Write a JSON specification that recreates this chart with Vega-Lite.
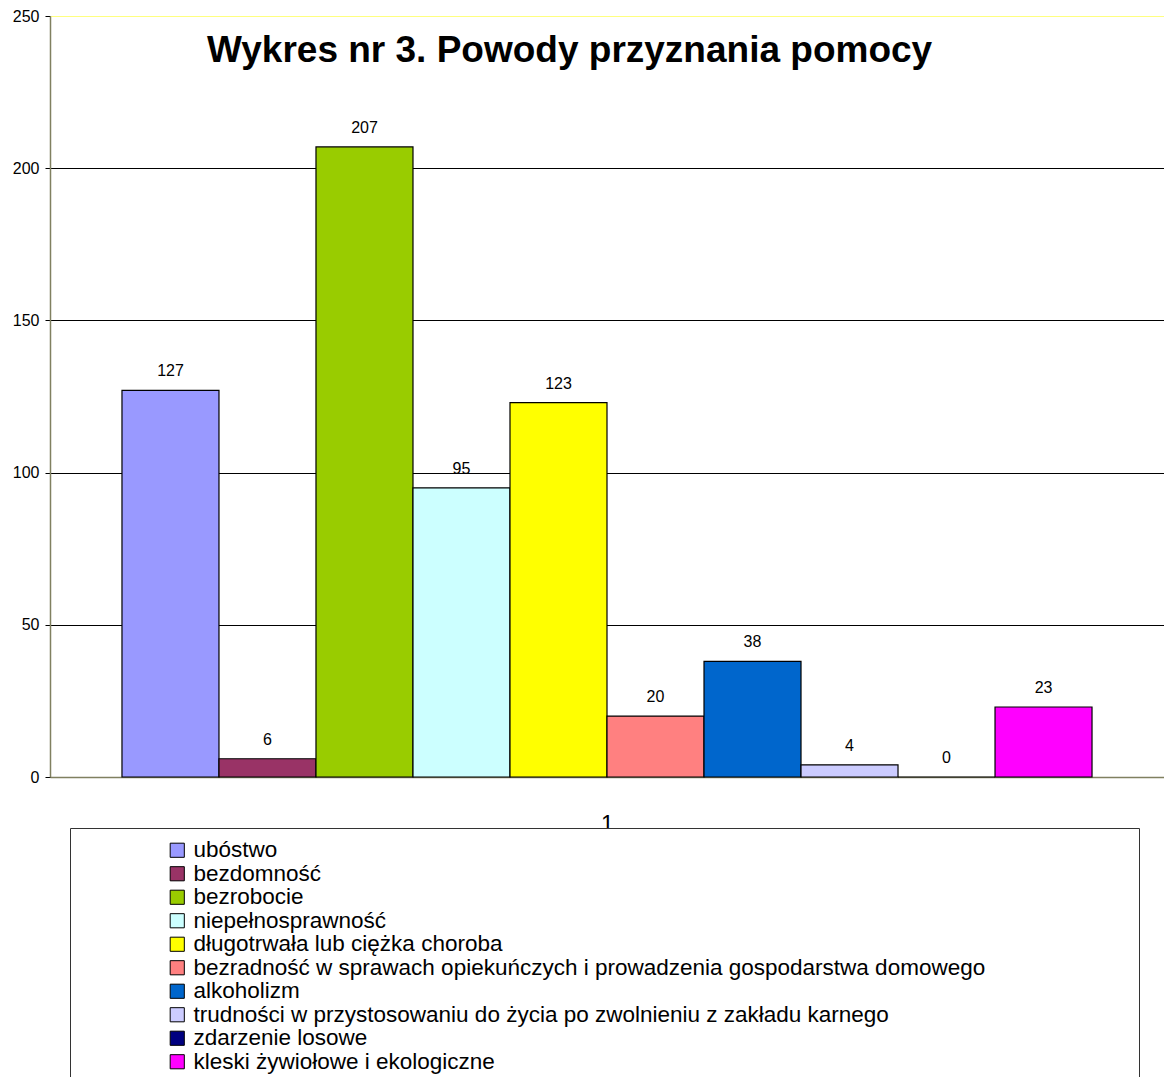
{
  "$schema": "https://vega.github.io/schema/vega-lite/v6.json",
  "width": 1114,
  "height": 761,
  "autosize": {"type": "none"},
  "padding": {"left": 50, "top": 16, "right": 0, "bottom": 300},
  "background": "white",
  "title": {
    "text": "Wykres nr 3. Powody przyznania pomocy",
    "anchor": "start",
    "frame": "group",
    "orient": "top",
    "font": "Liberation Sans",
    "fontSize": 37,
    "fontWeight": "bold",
    "color": "black",
    "baseline": "alphabetic",
    "offset": 0,
    "dx": 157,
    "dy": 91
  },
  "data": {
    "values": [
      {"kategoria": "ubóstwo", "liczba": 127},
      {"kategoria": "bezdomność", "liczba": 6},
      {"kategoria": "bezrobocie", "liczba": 207},
      {"kategoria": "niepełnosprawność", "liczba": 95},
      {"kategoria": "długotrwała  lub ciężka choroba", "liczba": 123},
      {"kategoria": "bezradność w sprawach opiekuńczych i prowadzenia gospodarstwa domowego", "liczba": 20},
      {"kategoria": "alkoholizm", "liczba": 38},
      {"kategoria": "trudności w przystosowaniu do życia po zwolnieniu z zakładu karnego", "liczba": 4},
      {"kategoria": "zdarzenie losowe", "liczba": 0},
      {"kategoria": "kleski żywiołowe i ekologiczne", "liczba": 23}
    ]
  },
  "encoding": {
    "x": {
      "field": "kategoria",
      "type": "nominal",
      "sort": null,
      "scale": {"paddingInner": 0, "paddingOuter": 0.742},
      "axis": {
        "title": "1",
        "titleFont": "Liberation Sans",
        "titleFontSize": 23,
        "titleFontWeight": "normal",
        "titleColor": "black",
        "titlePadding": 36,
        "labels": false,
        "ticks": false,
        "domainColor": "#808060",
        "domainWidth": 1.5,
        "grid": false
      }
    },
    "y": {
      "field": "liczba",
      "type": "quantitative",
      "scale": {"domain": [0, 250], "nice": false},
      "axis": {
        "title": null,
        "values": [0, 50, 100, 150, 200, 250],
        "labelFont": "Liberation Sans",
        "labelFontSize": 16,
        "labelColor": "black",
        "labelPadding": 6,
        "tickSize": 5,
        "tickColor": "black",
        "domainColor": "#808060",
        "domainWidth": 1.5,
        "grid": true,
        "gridColor": {"condition": {"test": "datum.value === 250", "value": "#ffff80"}, "value": "black"},
        "gridWidth": 1
      }
    }
  },
  "layer": [
    {
      "mark": {"type": "bar", "stroke": "black", "strokeWidth": 1.2},
      "encoding": {
        "color": {
          "field": "kategoria",
          "type": "nominal",
          "sort": null,
          "scale": {
            "domain": [
              "ubóstwo",
              "bezdomność",
              "bezrobocie",
              "niepełnosprawność",
              "długotrwała  lub ciężka choroba",
              "bezradność w sprawach opiekuńczych i prowadzenia gospodarstwa domowego",
              "alkoholizm",
              "trudności w przystosowaniu do życia po zwolnieniu z zakładu karnego",
              "zdarzenie losowe",
              "kleski żywiołowe i ekologiczne"
            ],
            "range": ["#9999FF", "#993366", "#99CC00", "#CCFFFF", "#FFFF00", "#FF8080", "#0066CC", "#CCCCFF", "#000080", "#FF00FF"]
          },
          "legend": {
            "orient": "none",
            "legendX": 20,
            "legendY": 812,
            "title": " ",
            "titleOrient": "left",
            "titleFontSize": 10,
            "titlePadding": 85,
            "strokeColor": "#333333",
            "fillColor": "white",
            "padding": 11,
            "symbolType": "square",
            "symbolSize": 200,
            "symbolStrokeColor": "black",
            "symbolStrokeWidth": 1,
            "labelFont": "Liberation Sans",
            "labelFontSize": 22.5,
            "labelColor": "black",
            "labelOffset": 5,
            "labelLimit": 1200,
            "rowPadding": 0.5,
            "labelExpr": "datum.label == 'bezradność w sprawach opiekuńczych i prowadzenia gospodarstwa domowego' ? datum.label + ' \u2800\u2800\u2800\u2800\u2800\u2800\u2800\u2800' : datum.label"
          }
        }
      }
    },
    {
      "mark": {
        "type": "text",
        "font": "Liberation Sans",
        "fontSize": 16,
        "color": "black",
        "baseline": "alphabetic",
        "dy": -14
      },
      "encoding": {"text": {"field": "liczba", "type": "quantitative"}}
    }
  ]
}
